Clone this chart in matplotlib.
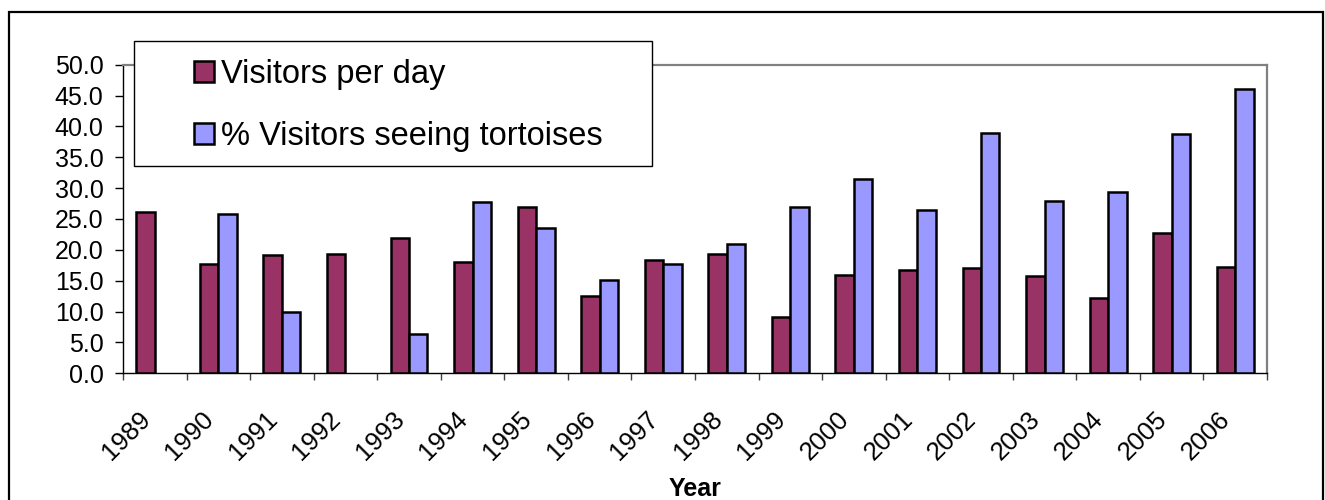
import numpy as np
import matplotlib
matplotlib.use('Agg')
import matplotlib.pyplot as plt
import matplotlib.transforms as mtransforms
from matplotlib.patches import Rectangle

plt.rcParams['font.family'] = ['Liberation Sans', 'DejaVu Sans']

# ------------------------------------------------------------
# Data
# ------------------------------------------------------------
years = [str(y) for y in range(1989, 2007)]
visitors_per_day = [26.1, 17.7, 19.2, 19.3, 21.9, 18.0, 27.0, 12.6, 18.4,
                    19.4, 9.2, 15.9, 16.7, 17.0, 15.7, 12.2, 22.7, 17.3]
pct_seeing = [np.nan, 25.8, 9.9, np.nan, 6.4, 27.8, 23.6, 15.1, 17.7,
              21.0, 27.0, 31.4, 26.5, 38.9, 27.9, 29.4, 38.8, 46.0]

MAROON = '#993366'
PERIWINKLE = '#9999FF'

W, H = 1325, 500
fig = plt.figure(figsize=(W / 100, H / 100), dpi=100)
ax = fig.add_axes([123 / W, (H - 373.3) / H, 1144 / W, 308.6 / H])

x = np.arange(len(years))
bw = 0.29
vis = np.array(visitors_per_day, dtype=float)
pct = np.array(pct_seeing, dtype=float)
ok = ~np.isnan(pct)
ax.bar(x - bw / 2, vis, bw, color=MAROON, edgecolor='black', linewidth=1.8,
       label='Visitors per day', zorder=3)
ax.bar(x[ok] + bw / 2, pct[ok], bw, color=PERIWINKLE, edgecolor='black',
       linewidth=1.8, label='% Visitors seeing tortoises', zorder=3)

# axes limits / spines
ax.set_xlim(-0.5, len(years) - 0.5)
ax.set_ylim(0, 50)
for side in ['top', 'right']:
    ax.spines[side].set_color('#808080')
    ax.spines[side].set_linewidth(1.6)
for side in ['left', 'bottom']:
    ax.spines[side].set_color('black')
    ax.spines[side].set_linewidth(1.0)

# y axis
ax.set_yticks(np.arange(0, 50.1, 5))
ax.set_yticklabels([f"{v:.1f}" for v in np.arange(0, 50.1, 5)])
ax.tick_params(axis='y', direction='out', length=6, width=1, pad=8,
               labelsize=18, colors='black')

# x axis: tick marks between categories, labels at centres
ax.set_xticks(np.arange(-0.5, len(years)), labels=[''] * (len(years) + 1))
ax.tick_params(axis='x', which='major', direction='out', length=5, width=1,
               color='#404040')
ax.set_xticks(x, minor=True)
ax.set_xticklabels(years, minor=True, rotation=45, ha='right', va='top',
                   rotation_mode='anchor', fontsize=18.5)
ax.tick_params(axis='x', which='minor', length=0, pad=24)
shift = mtransforms.ScaledTranslation(-17 / 100, 0, fig.dpi_scale_trans)
for lbl in ax.get_xticklabels(minor=True):
    lbl.set_transform(lbl.get_transform() + shift)

ax.set_xlabel('Year', fontsize=18, fontweight='bold')
ax.xaxis.set_label_coords(0.5, -0.336)

# legend box drawn above the plot area
box = Rectangle((134 / W, (H - 166) / H), 518 / W, 125 / H,
                transform=fig.transFigure, facecolor='white',
                edgecolor='black', linewidth=1.0, zorder=5)
fig.patches.append(box)
handles, labels = ax.get_legend_handles_labels()
leg = fig.legend(handles, labels, loc='upper left',
                 bbox_to_anchor=(194 / W, (H - 59) / H),
                 frameon=False, fontsize=23.5, handlelength=0.62,
                 handleheight=0.62, handletextpad=0.2, labelspacing=0.95,
                 borderpad=0, borderaxespad=0)
leg.set_zorder(6)
for h in leg.legend_handles:
    h.set_linewidth(1.8)

# outer chart border
fig.patches.append(Rectangle((9 / W, -0.02), 1314 / W, (H - 12) / H + 0.02,
                             transform=fig.transFigure, fill=False,
                             edgecolor='black', linewidth=1.6, zorder=7))

fig.savefig('out.png', dpi=100)
